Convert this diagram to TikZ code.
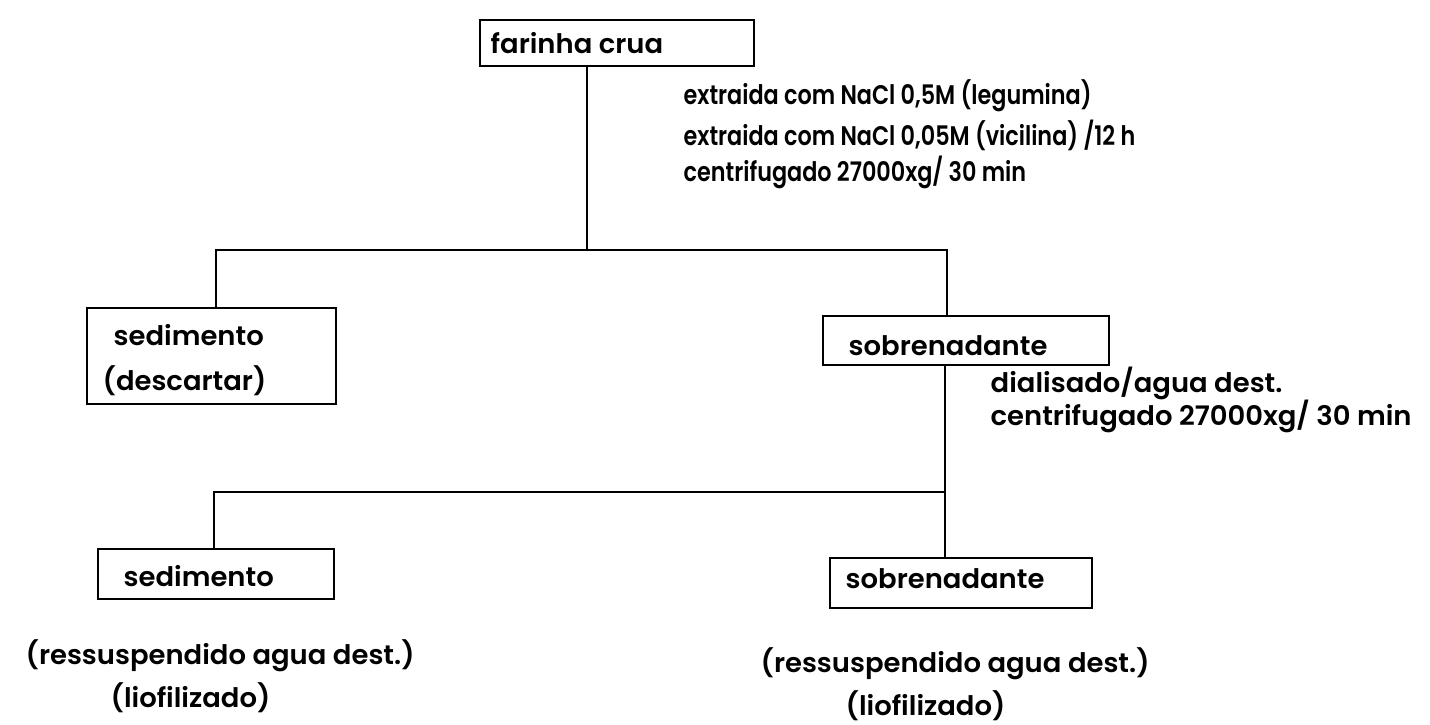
\documentclass[tikz,border=0pt]{standalone}
\usepackage{fontspec}
\setmainfont{Poppins}[UprightFont={* SemiBold},FakeStretch=1.02]
\newfontfamily\notefamily{Poppins}[UprightFont={* SemiBold},FakeStretch=0.83]
\newcommand\flowfont{\fontsize{27}{32}\selectfont}
\newcommand\notefont{\notefamily\fontsize{27}{32}\selectfont}
\begin{document}
\begin{tikzpicture}[x=1bp,y=-1bp,line width=1.4bp,
  box/.style={draw,rectangle,inner sep=0pt},
  lbl/.style={anchor=base west,inner sep=0pt,font=\flowfont},
  note/.style={anchor=base west,inner sep=0pt,font=\notefont}]
\path[use as bounding box] (0,0) rectangle (1430,724);

% boxes
\node[box,minimum width=274bp,minimum height=46bp] (top)  at (617,43)    {};
\node[box,minimum width=249bp,minimum height=96bp] (sed1) at (211.5,356) {};
\node[box,minimum width=286bp,minimum height=49bp] (sob1) at (966,340.5) {};
\node[box,minimum width=236bp,minimum height=50bp] (sed2) at (216,574)   {};
\node[box,minimum width=262bp,minimum height=50bp] (sob2) at (961,583)   {};

% box texts
\node[lbl] (ttop)  at (490,54)  {farinha crua};
\node[lbl] (tsed1) at (113,345) {sedimento};
\node[lbl] (tdesc) at (102,390) {(descartar)};
\node[lbl] (tsob1) at (848,355) {sobrenadante};
\node[lbl] (tsed2) at (123,586) {sedimento};
\node[lbl] (tsob2) at (845,588) {sobrenadante};

% step notes
\node[note] (n1) at (683,105) {extraida com NaCl 0,5M (legumina)};
\node[note] (n2) at (683,145) {extraida com NaCl 0,05M (vicilina) /12 h};
\node[note] (n3) at (683,181) {centrifugado 27000xg/ 30 min};
\node[lbl] (n4) at (990,392) {dialisado/agua dest.};
\node[lbl] (n5) at (990,425) {centrifugado 27000xg/ 30 min};

% notes under the final fractions
\node[lbl] (r1) at (25,664)  {(ressuspendido agua dest.)};
\node[lbl] (l1) at (110,707) {(liofilizado)};
\node[lbl] (r2) at (760,672) {(ressuspendido agua dest.)};
\node[lbl] (l2) at (845,715) {(liofilizado)};

% first separation
\coordinate (j1) at (587,250);
\coordinate (a1) at (216,250);
\coordinate (b1) at (947,250);
\draw (j1 |- top.south) -- (j1);
\draw (a1 |- sed1.north) -- (a1) -- (b1) -- (b1 |- sob1.north);

% second separation
\coordinate (j2) at (945,492);
\coordinate (a2) at (214,492);
\draw (j2 |- sob1.south) -- (j2 |- sob2.north);
\draw (a2 |- sed2.north) -- (a2) -- (j2);
\end{tikzpicture}
\end{document}
